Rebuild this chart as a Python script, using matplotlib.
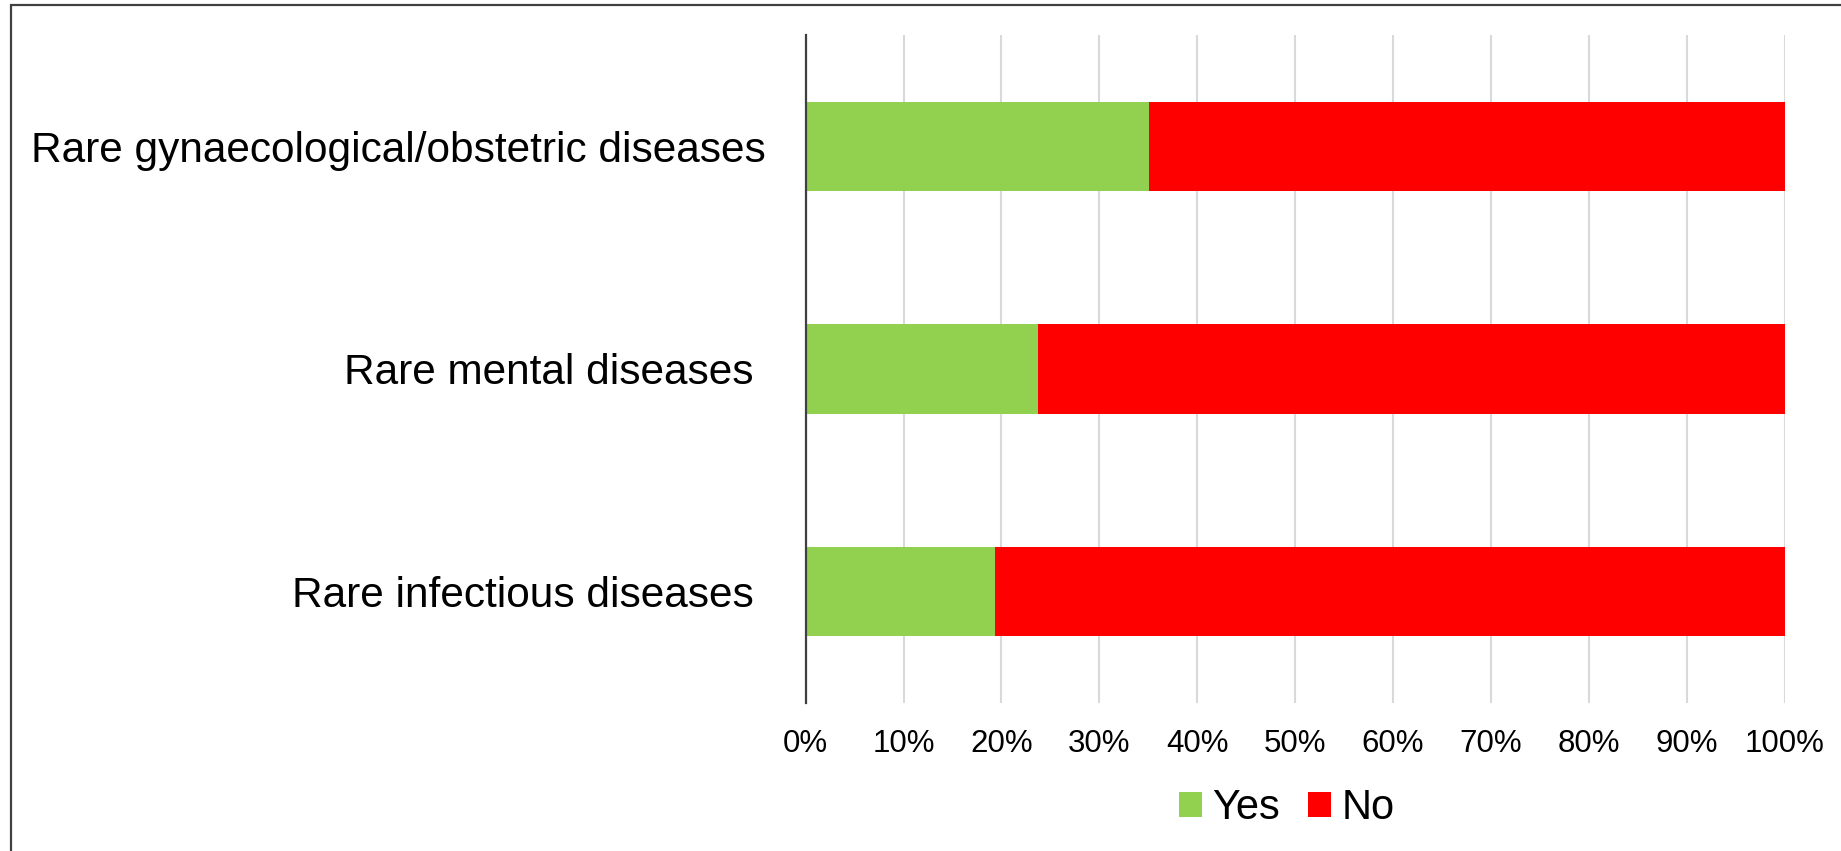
import matplotlib
matplotlib.use("Agg")
import matplotlib.pyplot as plt
import numpy as np
from matplotlib.patches import Rectangle

plt.rcParams['font.family'] = ['Liberation Sans', 'DejaVu Sans']

# bottom-to-top order of the horizontal bars
categories = ["Rare infectious diseases ", "Rare mental diseases ",
              "Rare gynaecological/obstetric diseases"]
yes_pct = [19.3, 23.7, 35.1]
no_pct = [80.7, 76.3, 64.9]
xticks = np.arange(0, 101, 10)

fig = plt.figure(figsize=(18.41, 8.51), dpi=100)
ax = fig.add_axes([0.4376, 0.1739, 0.9694 - 0.4376, 0.9589 - 0.1739])

y = np.arange(len(categories))
ax.barh(y, yes_pct, height=0.4, color="#92D050", label="Yes", zorder=3)
ax.barh(y, no_pct, left=yes_pct, height=0.4, color="#FF0000", label="No", zorder=3)

ax.set_xlim(0, 100)
ax.set_ylim(-0.5, len(categories) - 0.5)
ax.set_xticks(xticks)
ax.set_xticklabels([f"{t}%" for t in xticks], fontsize=22.5)
ax.set_yticks(y)
ax.set_yticklabels(categories, fontsize=30.5)
ax.tick_params(axis="y", length=0, pad=29)
ax.tick_params(axis="x", length=0, pad=19)
ax.grid(axis="x", color="#D9D9D9", linewidth=1.5, zorder=0)
for s in ["top", "right", "bottom"]:
    ax.spines[s].set_visible(False)
ax.spines["left"].set_color("#404040")
ax.spines["left"].set_linewidth(1.6)
ax.spines["left"].set_zorder(4)

fig.legend(loc="center", bbox_to_anchor=(1287 / 1841, 1 - 808 / 851), ncol=2,
           frameon=False, fontsize=30, handlelength=0.55, handleheight=0.55,
           handletextpad=0.25, columnspacing=0.67)

# outer chart border
fig.patches.append(Rectangle((11 / 1841, -0.1), 1.2, 1 - 5 / 851 + 0.1,
                             transform=fig.transFigure, fill=False,
                             edgecolor="#404040", linewidth=1.6))

fig.savefig("out.png", dpi=100)
